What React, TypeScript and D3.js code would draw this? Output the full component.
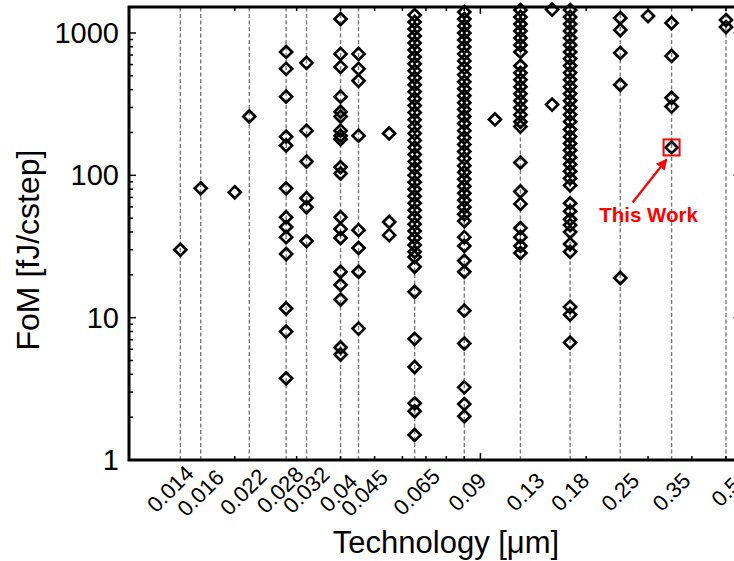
import React from "react";
import * as d3 from "d3";

// ---- data ----
const TECH_TICKS = [0.014, 0.016, 0.022, 0.028, 0.032, 0.04, 0.045, 0.065, 0.09, 0.13, 0.18, 0.25, 0.35, 0.5];
const TECH_LABELS = ["0.014", "0.016", "0.022", "0.028", "0.032", "0.04", "0.045", "0.065", "0.09", "0.13", "0.18", "0.25", "0.35", "0.5"];
const FOM_TICKS = [1, 10, 100, 1000];
const FOM_LABELS = ["1", "10", "100", "1000"];

const fom_014 = [30];
const fom_016 = [81];
const fom_020 = [76];
const fom_022 = [259];
const fom_028 = [736, 560, 357, 187, 162, 81, 50.8, 43.3, 36.8, 28, 11.6, 7.98, 3.75];
const fom_032 = [617, 206, 125, 69, 59.7, 34.5];
const fom_040 = [1253, 713, 578, 357, 280, 259, 206, 190, 179, 114, 103, 50.8, 41.9, 36.3, 21, 17, 13.4, 6.17, 5.51];
const fom_045 = [713, 560, 462, 190, 41.2, 30.9, 21, 8.38];
const fom_055 = [197, 47, 38];
const fom_065 = [1336, 1194, 1066, 953, 851, 761, 679, 607, 542, 484, 433, 387, 345, 309, 276, 246, 220, 197, 176, 157, 140, 125, 112, 100, 89.3, 79.8, 71.3, 63.7, 56.9, 50.8, 45.4, 40.6, 36.3, 32.4, 29, 26.7, 22.8, 15.2, 7.1, 4.5, 2.5, 2.2, 1.5];
const fom_090 = [1403, 1253, 1119, 1000, 894, 798, 713, 637, 569, 508, 454, 406, 362, 324, 290, 259, 231, 206, 184, 165, 147, 131.5, 117, 105, 93.8, 83.8, 74.8, 66.8, 59.7, 53.3, 47.7, 36.8, 31.9, 25.1, 21, 11.2, 6.58, 3.24, 2.47, 2.03];
const fom_110 = [247];
const fom_130 = [1449, 1294, 1156, 1033, 923, 824, 736, 588, 525, 469, 419, 374, 334, 299, 267, 238, 220, 123, 77, 63, 42.6, 36.8, 31.9, 28.5];
const fom_160 = [1460, 314];
const fom_180 = [1449, 1294, 1156, 1033, 923, 824, 736, 658, 588, 525, 469, 419, 374, 334, 299, 267, 238, 210, 187, 167.5, 150, 134, 119.4, 106.7, 95.3, 85.1, 63.7, 56, 49.2, 44.7, 40, 32.9, 29, 11.9, 10.5, 6.68];
const fom_250 = [1273, 1049, 725, 433, 19];
const fom_300 = [1315];
const fom_350 = [1175, 690, 351, 304, 157];
const fom_500 = [1233, 1101];

const SERIES: [number, number[]][] = [
  [0.014, fom_014], [0.016, fom_016], [0.02, fom_020], [0.022, fom_022],
  [0.028, fom_028], [0.032, fom_032], [0.04, fom_040], [0.045, fom_045],
  [0.055, fom_055], [0.065, fom_065], [0.09, fom_090], [0.11, fom_110],
  [0.13, fom_130], [0.16, fom_160], [0.18, fom_180], [0.25, fom_250],
  [0.3, fom_300], [0.35, fom_350], [0.5, fom_500],
];

const THIS_WORK = { tech: 0.35, fom: 157, label: "This Work" };

// ---- layout ----
const W = 734, H = 561;
const FONT = "'Liberation Sans', Arial, Helvetica, sans-serif";
// small horizontal nudges of the rotated tick labels (layout only)
const LABEL_DX = [-10, 0, -6, -6, 0, -2, 6, 2, 3, 5, 0, 0, 0, 0];
const LABEL_DY = [-3, 1, 0, -2, -2, 1, 1, 0, 0, 0, 0, 0, 0, 0];

export default function App() {
  const x = d3.scaleLog().domain([0.01, 0.5]).range([129, 726]);
  const y = d3.scaleLog().domain([1, 1000]).range([460, 33]);
  const xL = x(0.01), xR = x(0.55);
  const yB = y(1), yT = 7;
  const xMinor = d3.scaleLog().domain([0.01, 0.55]).ticks();
  const yMinor = d3.scaleLog().domain([1, 1500]).ticks();
  const isMajor = (v: number) => Math.abs(Math.log10(v) - Math.round(Math.log10(v))) < 1e-6;
  const r = 6;
  const diamond = (cx: number, cy: number) =>
    `M${cx},${cy - r}L${cx + r},${cy}L${cx},${cy + r}L${cx - r},${cy}Z`;

  const px = x(THIS_WORK.tech), py = y(THIS_WORK.fom);

  return (
    <svg width={W} height={H} style={{ position: "absolute", left: 0, top: 0, background: "#fff" }} fontFamily={FONT}>
      <defs>
        <marker id="arr" viewBox="0 0 10 10" refX="9" refY="5" markerWidth="5" markerHeight="5" orient="auto">
          <path d="M0,0L10,5L0,10Z" fill="#ff0000" />
        </marker>
      </defs>
      {/* grid */}
      {TECH_TICKS.map((t) => (
        <line key={"g" + t} x1={x(t)} x2={x(t)} y1={yB} y2={yT} stroke="#7a7a7a" strokeWidth={1.4} strokeDasharray="4,2.5" />
      ))}
      {/* points */}
      {SERIES.map(([t, vals]) =>
        vals.map((v, i) => (
          <path key={t + "-" + i} d={diamond(x(t), y(v))} fill="none" stroke="#000" strokeWidth={2.7} />
        ))
      )}
      {/* minor / major ticks */}
      {xMinor.map((t) => {
        const len = isMajor(t) ? 7 : 4;
        return (
          <g key={"xt" + t}>
            <line x1={x(t)} x2={x(t)} y1={yB} y2={yB - len} stroke="#000" strokeWidth={1.5} />
            <line x1={x(t)} x2={x(t)} y1={yT} y2={yT + len} stroke="#000" strokeWidth={1.5} />
          </g>
        );
      })}
      {yMinor.map((v) => {
        const len = isMajor(v) ? 7 : 4;
        return (
          <g key={"yt" + v}>
            <line x1={xL} x2={xL + len} y1={y(v)} y2={y(v)} stroke="#000" strokeWidth={1.5} />
            <line x1={xR} x2={xR - len} y1={y(v)} y2={y(v)} stroke="#000" strokeWidth={1.5} />
          </g>
        );
      })}
      {/* frame */}
      <rect x={xL} y={yT} width={xR - xL} height={yB - yT} fill="none" stroke="#000" strokeWidth={3} />
      {/* y tick labels */}
      {FOM_TICKS.map((v, i) => (
        <text key={"yl" + v} x={119} y={y(v)} textAnchor="end" dominantBaseline="central" fontSize={29} fill="#000">
          {FOM_LABELS[i]}
        </text>
      ))}
      {/* x tick labels */}
      {TECH_TICKS.map((t, i) => (
        <text key={"xl" + t} transform={`translate(${x(t) + LABEL_DX[i]},${492 + LABEL_DY[i]}) rotate(-45)`} textAnchor="middle" dominantBaseline="central" fontSize={22} fill="#000">
          {TECH_LABELS[i]}
        </text>
      ))}
      {/* axis titles */}
      <text x={446} y={553} textAnchor="middle" fontSize={31} fill="#000">Technology [μm]</text>
      <text transform={`translate(${39},${250}) rotate(-90)`} textAnchor="middle" fontSize={32} fill="#000">FoM [fJ/cstep]</text>
      {/* annotation */}
      <rect x={px - 8} y={py - 8} width={16} height={16} fill="none" stroke="#ff0000" strokeWidth={2} />
      <line x1={px - 39} x2={px - 5} y1={py + 55} y2={py + 12} stroke="#ff0000" strokeWidth={2.2} markerEnd="url(#arr)" />
      <text x={px - 23} y={py + 67} textAnchor="middle" dominantBaseline="central" fontSize={20.5} fontWeight="bold" fill="#ff0000">
        {THIS_WORK.label}
      </text>
    </svg>
  );
}
